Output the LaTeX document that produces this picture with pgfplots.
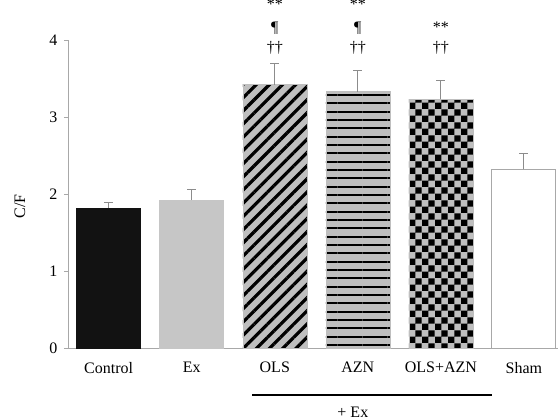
\documentclass[border=0pt]{standalone}
\usepackage{pgfplots}
\pgfplotsset{compat=1.18}
\usepackage{fontspec}
\setmainfont{Liberation Serif}
\usetikzlibrary{patterns,patterns.meta}
\pgfdeclarepatternformonly{mychecker}{\pgfpointorigin}{\pgfqpoint{9.6pt}{9.6pt}}{\pgfqpoint{9.6pt}{9.6pt}}{%
 \pgfpathrectangle{\pgfpointorigin}{\pgfqpoint{4.8pt}{4.8pt}}%
 \pgfpathrectangle{\pgfqpoint{4.8pt}{4.8pt}}{\pgfqpoint{4.8pt}{4.8pt}}%
 \pgfusepath{fill}}
\definecolor{axgray}{HTML}{A8A8A8}
\definecolor{errgray}{HTML}{8C8C8C}
\definecolor{barlight}{HTML}{C6C6C6}
\definecolor{patbg}{HTML}{BFBFBF}
\definecolor{barblack}{HTML}{121212}

\begin{document}
\begin{tikzpicture}
\path[use as bounding box] (-51pt,-54pt) rectangle (367.5pt,261pt);
\begin{axis}[
  at={(0,0)}, anchor=south west,
  scale only axis, width=367.5pt, height=231pt,
  xmin=-0.49, xmax=5.41, ymin=0, ymax=4,
  axis lines=left,
  axis line style={-, axgray, line width=0.7pt},
  xtick={0,1,2,3,4,5},
  xticklabels={Control,Ex,OLS,AZN,OLS+AZN,Sham},
  x tick style={draw=none},
  x tick label style={yshift=-4pt},
  ytick={0,1,2,3,4},
  y tick style={axgray, line width=0.7pt},
  y tick label style={xshift=-1.5pt},
  tick align=outside,
  major tick length=3pt,
  tick label style={font=\fontsize{12}{14}\selectfont},
  /pgf/number format/assume math mode=true,
  ylabel={C/F},
  label style={font=\fontsize{12}{14}\selectfont},
  ylabel style={at={(axis description cs:-0.098,0.46)}, anchor=center},
  clip=false,
  ybar,
  bar width=48pt,
  error bars/y dir=plus,
  error bars/y explicit,
  error bars/error bar style={errgray, line width=0.7pt},
  error bars/error mark options={errgray, mark size=3.4pt, rotate=90, line width=0.7pt},
]
\addplot[bar shift=0pt, fill=barblack, draw=barblack]
  coordinates {(0,1.82) +- (0,0.07)};
\addplot[bar shift=0pt, fill=barlight, draw=barlight]
  coordinates {(1,1.92) +- (0,0.14)};
\addplot[bar shift=0pt, fill=patbg, draw=patbg,
  postaction={pattern={Lines[angle=45,distance=7pt,line width=2.4pt]}, pattern color=black}]
  coordinates {(2,3.42) +- (0,0.28)};
\addplot[bar shift=0pt, fill=patbg, draw=patbg,
  postaction={pattern={Lines[angle=0,distance=6.25pt,line width=1.4pt]}, pattern color=black}]
  coordinates {(3,3.33) +- (0,0.28)};
\addplot[bar shift=0pt, fill=patbg, draw=patbg,
  postaction={pattern=mychecker, pattern color=black}]
  coordinates {(4,3.23) +- (0,0.25)};
\addplot[bar shift=0pt, fill=white, draw=axgray, line width=0.7pt]
  coordinates {(5,2.32) +- (0,0.20)};

\node[anchor=base, font=\fontsize{12}{14}\selectfont] at (axis cs:2,3.84) {††};
\node[anchor=base, font=\fontsize{12}{14}\selectfont] at (axis cs:3,3.84) {††};
\node[anchor=base, font=\fontsize{12}{14}\selectfont] at (axis cs:4,3.84) {††};
\node[anchor=base, font=\fontsize{12}{14}\selectfont] at (axis cs:2,4.10) {¶};
\node[anchor=base, font=\fontsize{12}{14}\selectfont] at (axis cs:3,4.10) {¶};
\node[anchor=base, font=\fontsize{12}{14}\selectfont] at (axis cs:4,4.10) {**};
\node[anchor=base, font=\fontsize{12}{14}\selectfont] at (axis cs:2,4.40) {**};
\node[anchor=base, font=\fontsize{12}{14}\selectfont] at (axis cs:3,4.40) {**};

\draw[line width=1pt] (axis cs:1.73,-0.61) -- (axis cs:4.61,-0.61);
\node[font=\fontsize{12}{14}\selectfont] at (axis cs:2.94,-0.83) {+ Ex};
\end{axis}
\end{tikzpicture}
\end{document}
